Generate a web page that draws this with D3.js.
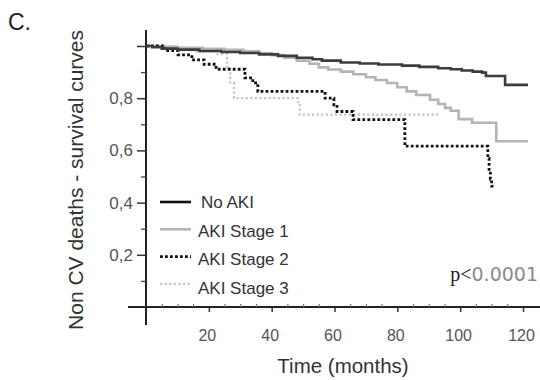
<!DOCTYPE html>
<html>
<head>
<meta charset="utf-8">
<script src="https://cdn.jsdelivr.net/npm/d3@7"></script>
<style>
  html, body { margin: 0; padding: 0; background: #fff; }
  svg { display: block; }
  text { font-family: "Liberation Sans", Arial, sans-serif; }
</style>
</head>
<body>
<svg id="chart" width="540" height="380"></svg>
<script>
// ---- Data ----
const seriesNames = ["No AKI", "AKI Stage 1", "AKI Stage 2", "AKI Stage 3"];

const noAkiTime = [0, 2, 5, 10, 17, 24, 30, 36, 42, 48, 53, 56, 62, 68, 74, 81.5, 87, 93, 97, 100.5, 104, 107, 108.2, 114.3, 121.6];
const noAkiSurv = [1, 0.995, 0.99, 0.986, 0.981, 0.977, 0.973, 0.968, 0.962, 0.955, 0.949, 0.944, 0.937, 0.933, 0.929, 0.925, 0.92, 0.915, 0.911, 0.906, 0.902, 0.898, 0.885, 0.851, 0.851];

const stage1Time = [0, 4, 10, 18, 25, 31, 36, 40, 44, 48, 52, 55, 58, 62, 66, 70, 73, 76.7, 80, 83, 86, 90.4, 93, 95.2, 97, 99.5, 103.8, 111.5, 121.6];
const stage1Surv = [1, 0.997, 0.993, 0.989, 0.985, 0.98, 0.973, 0.965, 0.955, 0.944, 0.932, 0.918, 0.91, 0.902, 0.892, 0.88, 0.87, 0.858, 0.842, 0.826, 0.812, 0.794, 0.778, 0.763, 0.752, 0.72, 0.706, 0.635, 0.635];

const stage2Time = [0, 6, 10.2, 14.6, 18.5, 22.3, 31.5, 34, 35.6, 57, 59.8, 60.8, 65.9, 82.4, 108.8, 109.2, 109.6, 110, 110.6];
const stage2Surv = [1, 0.982, 0.966, 0.947, 0.93, 0.911, 0.878, 0.859, 0.826, 0.80, 0.775, 0.749, 0.718, 0.616, 0.57, 0.52, 0.49, 0.463, 0.463];

const stage3Time = [0, 9, 15.5, 22, 25.8, 26.8, 28, 48.4, 48.9, 93];
const stage3Surv = [1, 0.99, 0.978, 0.97, 0.92, 0.86, 0.80, 0.775, 0.737, 0.737];

const xTickValues = [20, 40, 60, 80, 100, 120];
const xMinorTicks = [5, 10, 15, 25, 30, 35, 45, 50, 55, 65, 70, 75, 85, 90, 95, 105, 110, 115];
const yTickValues = [0.2, 0.4, 0.6, 0.8, 1.0];
const yTickLabels = ["0,2", "0,4", "0,6", "0,8", ""];
const yMinorTicks = [0.1, 0.3, 0.5, 0.7, 0.9];

const panelLabel = "C.";
const xTitle = "Time (months)";
const yTitle = "Non CV deaths - survival curves";
const pPrefix = "p<";
const pValue = "0.0001";

// ---- Build ----
const svg = d3.select("#chart");
const x = d3.scaleLinear().domain([0, 120]).range([146, 523]);
const y = d3.scaleLinear().domain([0, 1]).range([307, 46]);

const styles = [
  { stroke: "#3c3c3c", width: 2.6, dash: null },
  { stroke: "#b4b4b4", width: 2.6, dash: null },
  { stroke: "#111111", width: 2.8, dash: "2.8,2.2" },
  { stroke: "#c4c4c4", width: 2.2, dash: "2.2,2.4" }
];

const series = [
  { name: seriesNames[0], t: noAkiTime, s: noAkiSurv },
  { name: seriesNames[1], t: stage1Time, s: stage1Surv },
  { name: seriesNames[2], t: stage2Time, s: stage2Surv },
  { name: seriesNames[3], t: stage3Time, s: stage3Surv }
];

// Axes
const xAxisG = svg.append("g").attr("transform", `translate(0,${y(0)})`);
xAxisG.append("line").attr("x1", 128).attr("x2", 540).attr("y1", 0).attr("y2", 0)
  .attr("stroke", "#222").attr("stroke-width", 2);
const xMajor = d3.axisBottom(x).tickValues(xTickValues).tickSize(5).tickPadding(18)
  .tickFormat(d3.format("d"));
const xm = xAxisG.append("g").call(xMajor);
xm.select(".domain").remove();
xm.selectAll(".tick line").attr("stroke", "#333").attr("stroke-width", 1.5);
xm.selectAll(".tick text").attr("font-size", 16).attr("fill", "#555")
  .attr("font-family", "Liberation Sans, Arial, sans-serif").attr("dx", -2);
const xMin = d3.axisTop(x).tickValues(xMinorTicks).tickSize(3).tickFormat("");
const xmn = xAxisG.append("g").call(xMin);
xmn.select(".domain").remove();
xmn.selectAll(".tick line").attr("stroke", "#777").attr("stroke-width", 1.2);

const yAxisG = svg.append("g").attr("transform", `translate(${x(0)},0)`);
yAxisG.append("line").attr("x1", 0).attr("x2", 0).attr("y1", 30).attr("y2", 325)
  .attr("stroke", "#222").attr("stroke-width", 2);
const yMajor = d3.axisLeft(y).tickValues(yTickValues).tickSize(9).tickPadding(4)
  .tickFormat((d, i) => yTickLabels[i]);
const ym = yAxisG.append("g").call(yMajor);
ym.select(".domain").remove();
ym.selectAll(".tick line").attr("stroke", "#333").attr("stroke-width", 1.5);
ym.selectAll(".tick text").attr("font-size", 17).attr("fill", "#555")
  .attr("font-family", "Liberation Sans, Arial, sans-serif");
const yMin = d3.axisLeft(y).tickValues(yMinorTicks).tickSize(5).tickFormat("");
const ymn = yAxisG.append("g").call(yMin);
ymn.select(".domain").remove();
ymn.selectAll(".tick line").attr("stroke", "#444").attr("stroke-width", 1.3);

// Curves
const line = d3.line().x(d => x(d[0])).y(d => y(d[1])).curve(d3.curveStepAfter);
const order = [3, 1, 2, 0];
order.forEach(i => {
  const sr = series[i];
  const pts = sr.t.map((t, k) => [t, sr.s[k]]);
  const st = styles[i];
  const p = svg.append("path").datum(pts).attr("d", line)
    .attr("fill", "none").attr("stroke", st.stroke).attr("stroke-width", st.width);
  if (st.dash) p.attr("stroke-dasharray", st.dash);
});

// Legend
const legend = svg.append("g");
series.forEach((sr, i) => {
  const ly = 202 + i * 27.3;
  const ty = 208 + i * 28.7;
  const st = styles[i];
  const l = legend.append("line").attr("x1", 160).attr("x2", 191).attr("y1", ly).attr("y2", ly)
    .attr("stroke", i === 0 ? "#111" : st.stroke).attr("stroke-width", st.width);
  if (st.dash) l.attr("stroke-dasharray", st.dash);
  legend.append("text").attr("x", i === 0 ? 201 : 198).attr("y", ty)
    .attr("font-size", 17).attr("fill", "#333").text(sr.name);
});

// Texts
svg.append("text").attr("x", 8).attr("y", 30).attr("font-size", 23).attr("fill", "#222").text(panelLabel);
svg.append("text").attr("x", 343).attr("y", 373).attr("text-anchor", "middle")
  .attr("font-size", 20.5).attr("fill", "#333").text(xTitle);
svg.append("text").attr("transform", "translate(83,180) rotate(-90)").attr("text-anchor", "middle")
  .attr("font-size", 21).attr("fill", "#333").text(yTitle);

const pt = svg.append("text").attr("x", 538).attr("y", 281).attr("text-anchor", "end").attr("font-size", 20);
pt.append("tspan").attr("font-family", "Liberation Serif, serif").attr("fill", "#222").text(pPrefix);
pt.append("tspan").attr("font-family", "DejaVu Sans, sans-serif").attr("fill", "#8a8a8a").attr("font-size", 19).text(pValue);
</script>
</body>
</html>
